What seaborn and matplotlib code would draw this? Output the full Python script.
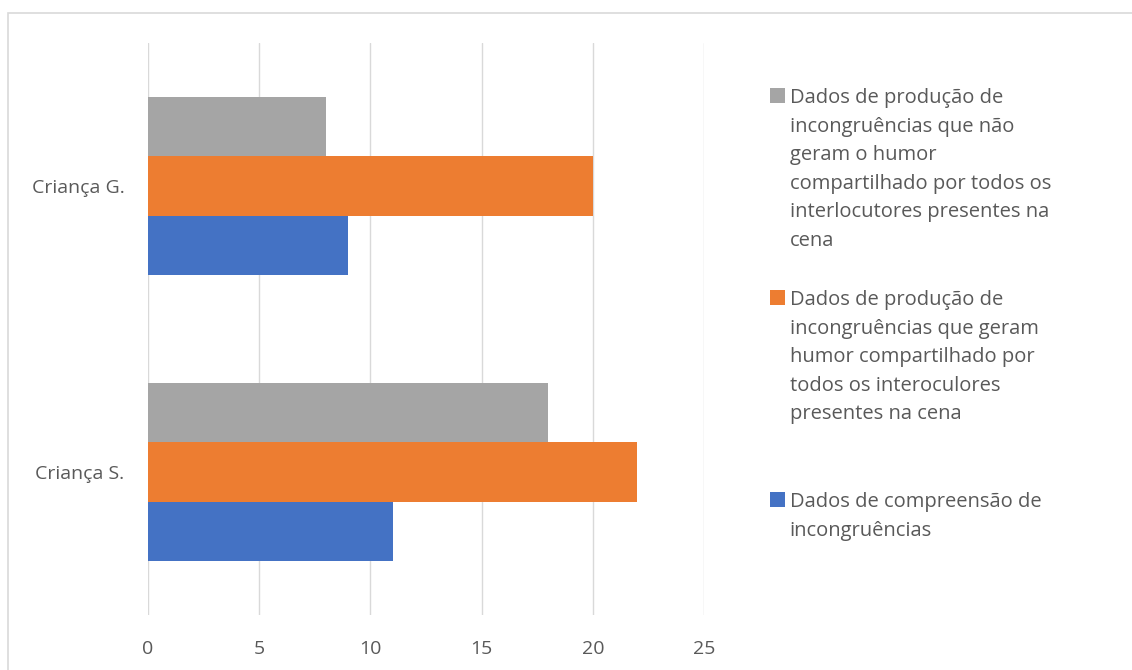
import pandas as pd
import seaborn as sns
import matplotlib.pyplot as plt
from matplotlib.patches import Rectangle

# Dados
criancas = ["Criança G.", "Criança S."]
series = [
    "Dados de produção de\nincongruências que não\ngeram o humor\ncompartilhado por todos os\ninterlocutores presentes na\ncena",
    "Dados de produção de\nincongruências que geram\nhumor compartilhado por\ntodos os interoculores\npresentes na cena\n",
    "Dados de compreensão de\nincongruências",
]
nao_gera_humor = [8, 18]
gera_humor = [20, 22]
compreensao = [9, 11]
cores = ["#A5A5A5", "#ED7D31", "#4472C4"]
ticks_x = [0, 5, 10, 15, 20, 25]

df = pd.DataFrame({
    "crianca": criancas * 3,
    "serie": [series[0]] * 2 + [series[1]] * 2 + [series[2]] * 2,
    "valor": nao_gera_humor + gera_humor + compreensao,
})

sns.set_style("white")
plt.rcParams["font.family"] = ["Open Sans", "DejaVu Sans"]
txt = "#595959"

fig = plt.figure(figsize=(11.32, 6.7), dpi=100)
ax = fig.add_axes([148 / 1132, 1 - 615 / 670, 556 / 1132, 572 / 670])

sns.barplot(data=df, x="valor", y="crianca", hue="serie", hue_order=series,
            palette=cores, orient="h", width=0.62, saturation=1,
            linewidth=0, ax=ax)

ax.set_xlim(0, 25)
ax.set_ylim(1.5, -0.5)
ax.set_xticks(ticks_x)
ax.grid(axis="x", color="#D9D9D9", linewidth=1)
ax.set_axisbelow(True)
for s in ax.spines.values():
    s.set_visible(False)
ax.set_xlabel("")
ax.set_ylabel("")
ax.tick_params(axis="both", length=0, labelsize=14, colors=txt)
ax.tick_params(axis="x", pad=18)
ax.tick_params(axis="y", pad=17)

handles, labels = ax.get_legend_handles_labels()
ax.legend_.remove()
leg = fig.legend(handles, labels, loc="upper left",
                 bbox_to_anchor=(770 / 1132, 1 - 88 / 670),
                 frameon=False, fontsize=14.5, labelcolor=txt,
                 handlelength=0.75, handleheight=0.75, handletextpad=0.22,
                 labelspacing=1.95, borderpad=0, borderaxespad=0)
for t in leg.get_texts():
    t.set_linespacing(1.57)
# marcador alinhado com a primeira linha do texto
for col in leg._legend_handle_box.get_children():
    for item in col.get_children():
        item.align = "top"

# moldura do gráfico
fig.add_artist(Rectangle((8 / 1132, -0.05), 1.2, 1 - 13 / 670 + 0.05,
                         transform=fig.transFigure, fill=False,
                         edgecolor="#D9D9D9", linewidth=1.2))

fig.savefig("out.png", dpi=100)
